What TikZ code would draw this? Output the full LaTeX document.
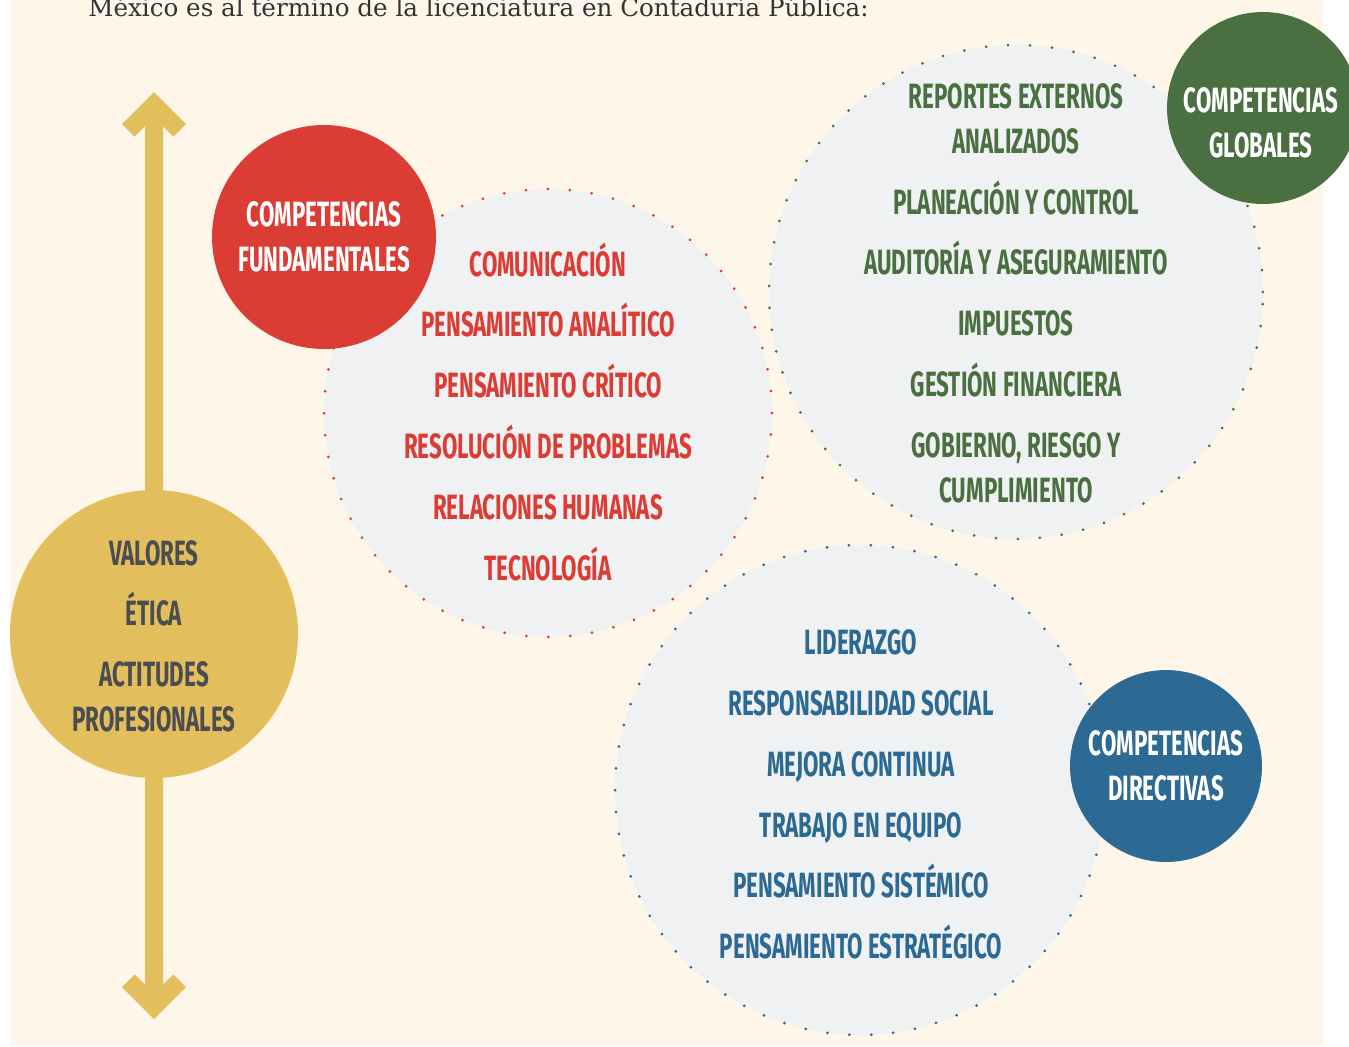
\documentclass[tikz,border=0pt]{standalone}
\usepackage{fontspec}
\setmainfont{DejaVu Serif}
\newfontfamily\condfont{Fira Sans}[FakeStretch=0.635]
\newcommand\etiqueta{\condfont\bfseries\fontsize{20}{25.6}\selectfont}

\definecolor{crema}{HTML}{FEF6E9}
\definecolor{grisclaro}{HTML}{F0F1F3}
\definecolor{rojo}{HTML}{DB3C33}
\definecolor{verde}{HTML}{4A7041}
\definecolor{azul}{HTML}{2D6A93}
\definecolor{oro}{HTML}{E3BE5C}
\definecolor{oscuro}{HTML}{4B4D50}
\definecolor{encab}{HTML}{333333}

\begin{document}
\begin{tikzpicture}[
		x=0.02cm, y=-0.02cm,
		anillo/.style={
			circle,
			draw=#1,
			fill=grisclaro,
			line width=0.06cm,
			line cap=round,
			dash pattern=on 0pt off 0.44cm,
			inner sep=0pt
		},
		disco/.style={
			circle,
			fill=#1,
			inner sep=0pt,
			align=center,
			text=white,
			font=\etiqueta
		},
		renglon/.style={
			text=#1,
			font=\etiqueta,
			text height=13.8pt,
			text depth=0pt,
			inner sep=0pt
		},
		renglon2/.style={
			text=#1,
			font=\etiqueta,
			align=center,
			inner sep=0pt
		}
		]
		
		\useasboundingbox (0,0) rectangle (1349,1046);
		\fill[crema] (10,0) rectangle (1323,1046);
		
		\node[anchor=base west, inner sep=0pt, text=encab, font=\fontsize{14}{16}\selectfont] (encabezado) at (88,16) {México es al término de la licenciatura en Contaduría Pública:};
		
		%Flecha
		\coordinate (fTop) at (154,92);
		\coordinate (fBot) at (154,1019);
		\fill[oro] (fTop) -- (186,124) -- (173.3,136.7) -- (163,126.4) -- (163,984.6) -- (173.3,974.3) -- (186,987) -- (fBot) -- (122,987) -- (134.7,974.3) -- (145,984.6) -- (145,126.4) -- (134.7,136.7) -- (122,124) -- cycle;
		
		%Circulos grandes
		\node[anillo=rojo, minimum size=8.96cm] (fund) at (548,413) {};
		\node[anillo=verde, minimum size=9.88cm] (glob) at (1016,292) {};
		\node[anillo=azul, minimum size=9.8cm] (dir) at (860,790) {};
		
		%Circulos solidos
		\node[disco=oro, minimum size=5.76cm] (valores) at (154,634) {};
		\node[disco=rojo, minimum size=4.48cm] (tFund) at (324,237) {COMPETENCIAS\\FUNDAMENTALES};
		\node[disco=verde, minimum size=3.84cm] (tGlob) at (1263,108) {};
		\node[renglon2=white] (tGlobTxt) at (1261,123) {COMPETENCIAS\\GLOBALES};
		\node[disco=azul, minimum size=3.84cm] (tDir) at (1166,766) {COMPETENCIAS\\DIRECTIVAS};
		
		%Valores
		\node[renglon=oscuro] (val1) at (154,553) {VALORES};
		\node[renglon=oscuro] (val2) at (154,613) {ÉTICA};
		\node[renglon2=oscuro] (val3) at (154,696.5) {ACTITUDES\\PROFESIONALES};
		
		%Fundamentales
		\node[renglon=rojo] (f1) at (548,264) {COMUNICACIÓN};
		\node[renglon=rojo] (f2) at (548,324) {PENSAMIENTO ANALÍTICO};
		\node[renglon=rojo] (f3) at (548,385) {PENSAMIENTO CRÍTICO};
		\node[renglon=rojo] (f4) at (548,446) {RESOLUCIÓN DE PROBLEMAS};
		\node[renglon=rojo] (f5) at (548,507) {RELACIONES HUMANAS};
		\node[renglon=rojo] (f6) at (548,568) {TECNOLOGÍA};
		
		%Globales
		\node[renglon2=verde] (g1) at (1016,118.5) {REPORTES EXTERNOS\\ANALIZADOS};
		\node[renglon=verde] (g2) at (1016,202) {PLANEACIÓN Y CONTROL};
		\node[renglon=verde] (g3) at (1016,262) {AUDITORÍA Y ASEGURAMIENTO};
		\node[renglon=verde] (g4) at (1016,323) {IMPUESTOS};
		\node[renglon=verde] (g5) at (1016,384) {GESTIÓN FINANCIERA};
		\node[renglon2=verde] (g6) at (1016,467.5) {GOBIERNO, RIESGO Y\\CUMPLIMIENTO};
		
		%Directivas
		\node[renglon=azul] (d1) at (861,642) {LIDERAZGO};
		\node[renglon=azul] (d2) at (861,703) {RESPONSABILIDAD SOCIAL};
		\node[renglon=azul] (d3) at (861,764) {MEJORA CONTINUA};
		\node[renglon=azul] (d4) at (861,825) {TRABAJO EN EQUIPO};
		\node[renglon=azul] (d5) at (861,885) {PENSAMIENTO SISTÉMICO};
		\node[renglon=azul] (d6) at (861,946) {PENSAMIENTO ESTRATÉGICO};
		
	\end{tikzpicture}
\end{document}
